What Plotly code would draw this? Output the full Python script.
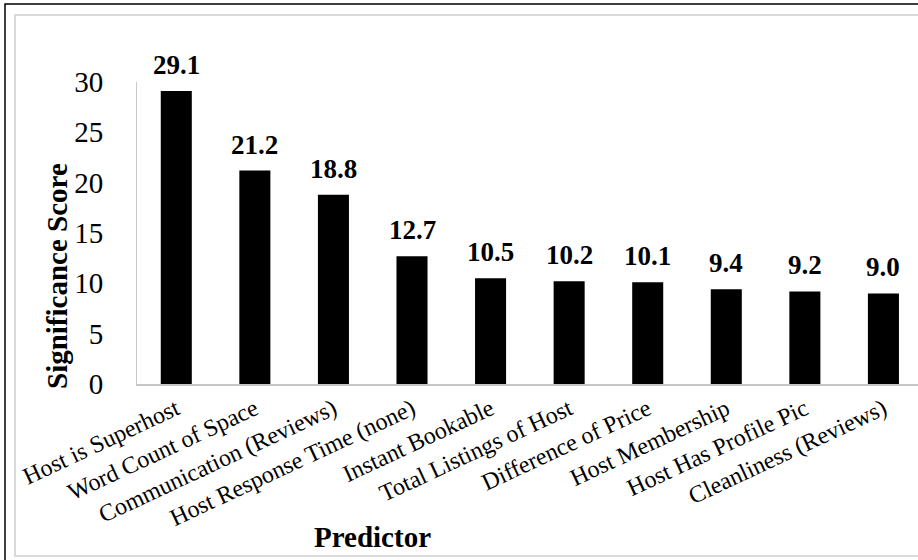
import plotly.graph_objects as go

predictors = [
    "Host is Superhost", "Word Count of Space", "Communication (Reviews)",
    "Host Response Time (none)", "Instant Bookable", "Total Listings of Host",
    "Difference of Price", "Host Membership", "Host Has Profile Pic",
    "Cleanliness (Reviews)",
]
scores = [29.1, 21.2, 18.8, 12.7, 10.5, 10.2, 10.1, 9.4, 9.2, 9.0]
y_ticks = [0, 5, 10, 15, 20, 25, 30]

W, H = 918, 560
L, R, T, B = 137, 0, 82, 176
PW, PH = W - L - R, H - T - B


def px_x(px):
    return (px - L) / PW


def px_y(py):
    return (H - B - py) / PH


FONT = "Liberation Serif"

fig = go.Figure()
fig.add_trace(go.Bar(
    x=list(range(len(predictors))), y=scores,
    marker=dict(color="black", line=dict(width=0)),
    width=0.395, hoverinfo="skip",
))

annotations = []
for i, v in enumerate(scores):
    annotations.append(dict(
        x=i, y=v, xref="x", yref="y", text=f"<b>{v:.1f}</b>",
        showarrow=False, yanchor="bottom", yshift=9,
        font=dict(family=FONT, size=27, color="black"),
    ))
annotations.append(dict(
    x=px_x(57), y=px_y(276), xref="paper", yref="paper",
    text="<b>Significance Score</b>", textangle=-90, showarrow=False,
    xanchor="center", yanchor="middle",
    font=dict(family=FONT, size=29, color="black"),
))
annotations.append(dict(
    x=px_x(372), y=px_y(537), xref="paper", yref="paper",
    text="<b>Predictor</b>", showarrow=False,
    xanchor="center", yanchor="middle",
    font=dict(family=FONT, size=29, color="black"),
))

shapes = [
    dict(type="rect", xref="paper", yref="paper",
         x0=px_x(5), x1=px_x(1100), y0=px_y(4), y1=px_y(700),
         line=dict(color="black", width=1.5), layer="below"),
    dict(type="rect", xref="paper", yref="paper",
         x0=px_x(15), x1=px_x(1100), y0=px_y(15), y1=px_y(556),
         line=dict(color="#d9d9d9", width=2), layer="below"),
]

fig.update_layout(
    width=W, height=H,
    margin=dict(l=L, r=R, t=T, b=B, pad=0),
    paper_bgcolor="white", plot_bgcolor="white",
    showlegend=False,
    annotations=annotations, shapes=shapes,
    xaxis=dict(
        range=[-0.5, 9.44], tickmode="array",
        tickvals=list(range(len(predictors))), ticktext=predictors,
        tickangle=-25, showgrid=False, zeroline=False,
        showline=True, linecolor="#c8c8c8", linewidth=1.5,
        ticks="", tickfont=dict(family=FONT, size=24, color="black"),
    ),
    yaxis=dict(
        range=[0, 30], tickmode="array", tickvals=y_ticks,
        showgrid=False, zeroline=False,
        showline=True, linecolor="#c8c8c8", linewidth=1,
        ticks="", ticklabelstandoff=27,
        tickfont=dict(family=FONT, size=29, color="black"),
    ),
)

fig.write_html(
    "out.html",
    config={"displayModeBar": False},
    post_script="document.body.style.margin='0';document.body.style.overflow='hidden';",
)
